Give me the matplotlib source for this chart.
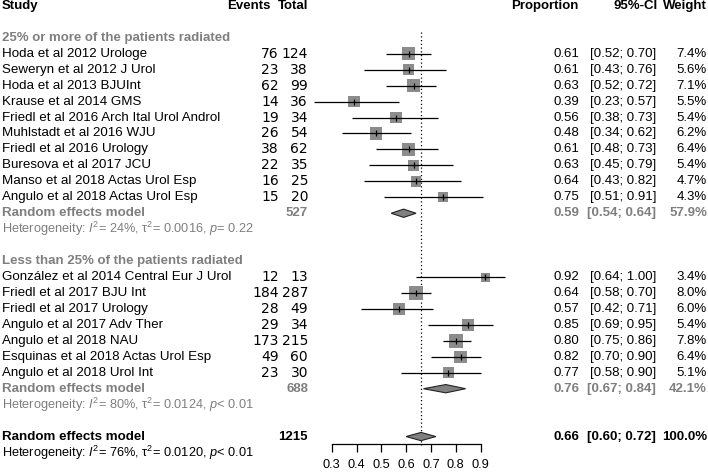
import numpy as np
import matplotlib
matplotlib.use("Agg")
import matplotlib.pyplot as plt
from matplotlib.patches import Polygon
from matplotlib import transforms

# ---------------- data ----------------
studies1 = ["Hoda et al 2012 Urologe", "Seweryn et al 2012 J Urol", "Hoda et al 2013 BJUInt",
            "Krause et al 2014 GMS", "Friedl et al 2016 Arch Ital Urol Androl", "Muhlstadt et al 2016 WJU",
            "Friedl et al 2016 Urology", "Buresova et al 2017 JCU", "Manso et al 2018 Actas Urol Esp",
            "Angulo et al 2018 Actas Urol Esp"]
events1 = [76, 23, 62, 14, 19, 26, 38, 22, 16, 15]
total1 = [124, 38, 99, 36, 34, 54, 62, 35, 25, 20]
prop1 = [0.61, 0.61, 0.63, 0.39, 0.56, 0.48, 0.61, 0.63, 0.64, 0.75]
lo1 = [0.52, 0.43, 0.52, 0.23, 0.38, 0.34, 0.48, 0.45, 0.43, 0.51]
hi1 = [0.70, 0.76, 0.72, 0.57, 0.73, 0.62, 0.73, 0.79, 0.82, 0.91]
w1 = [7.4, 5.6, 7.1, 5.5, 5.4, 6.2, 6.4, 5.4, 4.7, 4.3]

studies2 = ["González et al 2014 Central Eur J Urol", "Friedl et al 2017 BJU Int", "Friedl et al 2017 Urology",
            "Angulo et al 2017 Adv Ther", "Angulo et al 2018 NAU", "Esquinas et al 2018 Actas Urol Esp",
            "Angulo et al 2018 Urol Int"]
events2 = [12, 184, 28, 29, 173, 49, 23]
total2 = [13, 287, 49, 34, 215, 60, 30]
prop2 = [0.92, 0.64, 0.57, 0.85, 0.80, 0.82, 0.77]
lo2 = [0.64, 0.58, 0.42, 0.69, 0.75, 0.70, 0.58]
hi2 = [1.00, 0.70, 0.71, 0.95, 0.86, 0.90, 0.90]
w2 = [3.4, 8.0, 6.0, 5.4, 7.8, 6.4, 5.1]

sections = ["25% or more of the patients radiated", "Less than 25% of the patients radiated"]
# pooled: estimate, lower, upper, weight, total
pooled1 = [0.59, 0.54, 0.64, 57.9, 527]
pooled2 = [0.76, 0.67, 0.84, 42.1, 688]
pooled_all = [0.66, 0.60, 0.72, 100.0, 1215]
het1 = r"Heterogeneity: $I^2$= 24%, τ$^2$= 0.0016, $p$= 0.22"
het2 = r"Heterogeneity: $I^2$= 80%, τ$^2$= 0.0124, $p$< 0.01"
het_all = r"Heterogeneity: $I^2$= 76%, τ$^2$= 0.0120, $p$< 0.01"
ticks = [0.3, 0.4, 0.5, 0.6, 0.7, 0.8, 0.9]

# ---------------- style ----------------
plt.rcParams['font.family'] = ['Liberation Sans', 'DejaVu Sans']
plt.rcParams['mathtext.fontset'] = 'custom'
plt.rcParams['mathtext.rm'] = 'Liberation Sans'
plt.rcParams['mathtext.it'] = 'Liberation Sans:italic'
plt.rcParams['mathtext.bf'] = 'Liberation Sans:bold'

W, H = 708, 474
fig = plt.figure(figsize=(W / 100, H / 100), dpi=100)
ax = fig.add_axes([0, 0, 1, 1])
ax.axis('off')

# x: proportion units, 0.3 at px 331.7, 0.1 per 24.8 px
x0_px, scale = 331.7, 248.0
ax.set_xlim(0.3 - x0_px / scale, 0.3 + (W - x0_px) / scale)
# y: rows, 15.95 px per row
row_h, off = 15.95, 5.9
ax.set_ylim((H - off) / row_h, -off / row_h)

tr = transforms.blended_transform_factory(fig.transFigure, ax.transData)
GRAY = '#7f7f7f'
fs = 9.5
fs_name = 9.6
fs_num = 10
fs_het = 9.2


def put(xpx, row, s, ha='left', **kw):
    ax.text(xpx / W, row, s, transform=tr, ha=ha, va='center', **kw)


# headers
put(2, 0, "Study", fontsize=fs, fontweight='bold')
put(270, 0, "Events", ha='right', fontsize=fs, fontweight='bold')
put(308, 0, "Total", ha='right', fontsize=fs, fontweight='bold')
put(579, 0, "Proportion", ha='right', fontsize=fs, fontweight='bold')
put(658, 0, "95%-CI", ha='right', fontsize=fs, fontweight='bold')
put(707, 0, "Weight", ha='right', fontsize=fs, fontweight='bold')


def study_rows(start, names, ev, tot, p, lo, hi, w):
    rows = np.arange(start, start + len(names))
    for r, n, e, t, pp, l, h, ww in zip(rows, names, ev, tot, p, lo, hi, w):
        put(2, r, n, fontsize=fs_name)
        put(279, r, str(e), ha='right', fontsize=fs_num, family='DejaVu Sans')
        put(308, r, str(t), ha='right', fontsize=fs_num, family='DejaVu Sans')
        put(579, r, "%.2f" % pp, ha='right', fontsize=fs)
        put(656, r, "[%.2f; %.2f]" % (l, h), ha='right', fontsize=fs)
        put(707, r, "%.1f%%" % ww, ha='right', fontsize=fs)
    side_pt = 4.89 * np.sqrt(np.array(w)) * 0.72
    ax.scatter(p, rows, marker='s', s=side_pt ** 2, color='#8c8c8c', edgecolors='none', zorder=2)
    ax.hlines(rows, lo, hi, color='black', lw=0.9, zorder=3)
    ax.scatter(p, rows, marker='|', s=13, color='black', linewidths=0.9, zorder=4)


def pooled_row(r, pooled, color):
    est, l, h, ww, t = pooled
    put(2, r, "Random effects model", fontsize=fs_name, fontweight='bold', color=color)
    put(308, r, str(t), ha='right', fontsize=fs, fontweight='bold', color=color)
    put(579, r, "%.2f" % est, ha='right', fontsize=fs, fontweight='bold', color=color)
    put(656, r, "[%.2f; %.2f]" % (l, h), ha='right', fontsize=fs, fontweight='bold', color=color)
    put(707, r, "%.1f%%" % ww, ha='right', fontsize=fs, fontweight='bold', color=color)
    d = 0.26
    ax.add_patch(Polygon([(l, r), (est, r - d), (h, r), (est, r + d)], closed=True,
                         facecolor='#808080', edgecolor='#222222', lw=0.8, zorder=3))


# group 1
put(2, 2, sections[0], fontsize=fs, fontweight='bold', color=GRAY)
study_rows(3, studies1, events1, total1, prop1, lo1, hi1, w1)
pooled_row(13, pooled1, GRAY)
put(2, 14, het1, fontsize=fs_het, color=GRAY)

# group 2
put(2, 16, sections[1], fontsize=fs, fontweight='bold', color=GRAY)
study_rows(17, studies2, events2, total2, prop2, lo2, hi2, w2)
pooled_row(24, pooled2, GRAY)
put(2, 25, het2, fontsize=fs_het, color=GRAY)

# overall
pooled_row(27, pooled_all, 'black')
put(2, 28, het_all, fontsize=fs_het, color='black')

# reference line at overall estimate
ax.vlines(pooled_all[0], 1.65, 27.5, color='black', lw=0.9, linestyles=(0, (1, 2)), zorder=1)

# scale axis
ax_px_y = 444
ax2 = fig.add_axes([x0_px / W, (H - ax_px_y) / H, 0.6 * scale / W, 1e-4])
ax2.set_xlim(0.3, 0.9)
ax2.set_facecolor('none')
for s in ['top', 'left', 'right']:
    ax2.spines[s].set_visible(False)
ax2.spines['bottom'].set_linewidth(0.9)
ax2.set_yticks([])
ax2.set_xticks(ticks)
ax2.set_xticklabels(["%.1f" % t for t in ticks])
ax2.tick_params(axis='x', direction='out', length=6, width=0.9, pad=5, labelsize=9.2)

fig.savefig("out.png", dpi=100)
